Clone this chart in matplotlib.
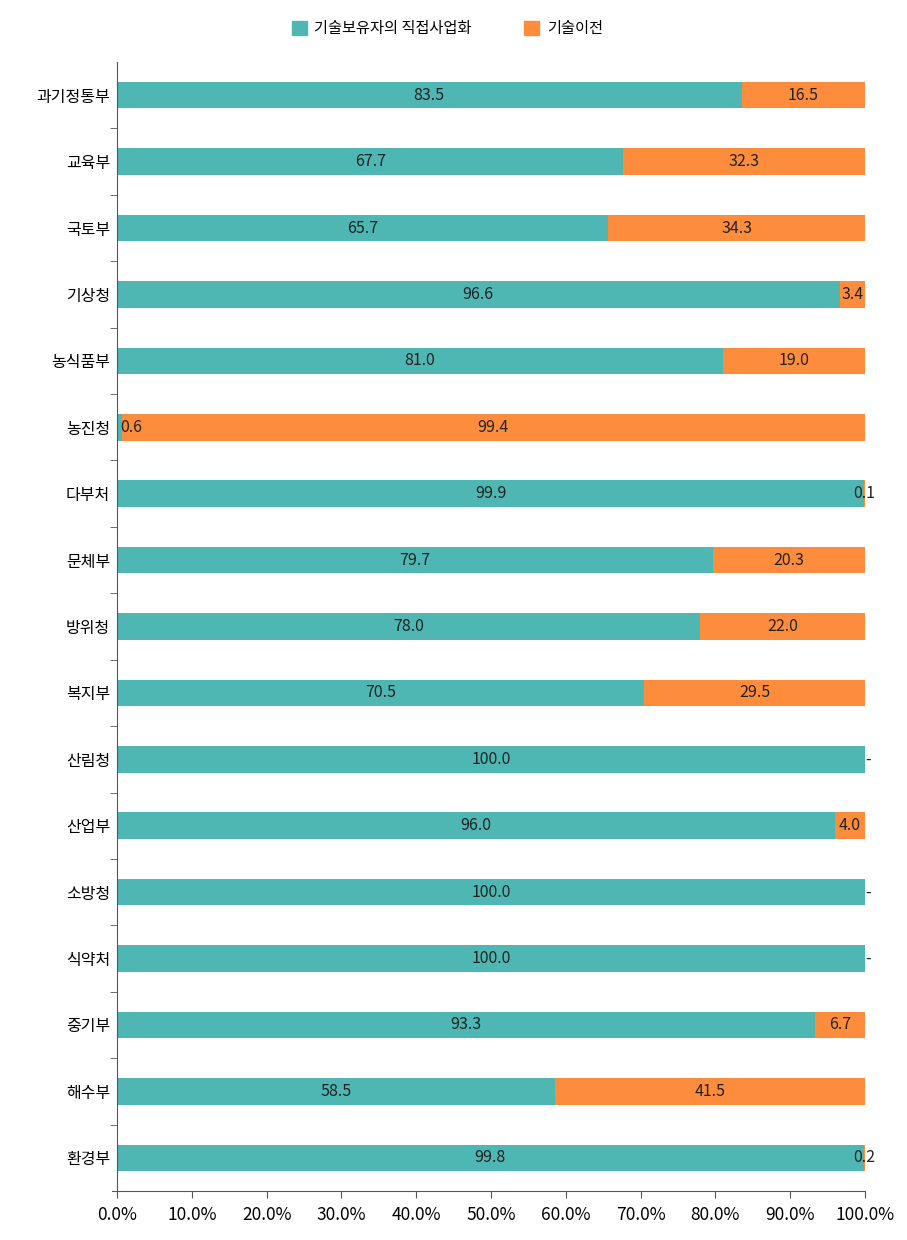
import numpy as np
import matplotlib.pyplot as plt
from matplotlib.patches import Patch

plt.rcParams['font.family'] = ['Noto Sans CJK KR', 'DejaVu Sans']

# data
ministries = ['과기정통부', '교육부', '국토부', '기상청', '농식품부', '농진청', '다부처',
              '문체부', '방위청', '복지부', '산림청', '산업부', '소방청', '식약처',
              '중기부', '해수부', '환경부']
direct = [83.5, 67.7, 65.7, 96.6, 81.0, 0.6, 99.9, 79.7, 78.0, 70.5,
          100.0, 96.0, 100.0, 100.0, 93.3, 58.5, 99.8]
transfer = [16.5, 32.3, 34.3, 3.4, 19.0, 99.4, 0.1, 20.3, 22.0, 29.5,
            0.0, 4.0, 0.0, 0.0, 6.7, 41.5, 0.2]
series_names = ['기술보유자의 직접사업화', '기술이전']

teal = '#4FB7B3'
orange = '#FD8D3C'
spine_c = '#555555'

fig = plt.figure(figsize=(9.07, 12.4), dpi=100)
ax = fig.add_axes([0.1235, 0.0395, 0.8302, 0.9105])

y = np.arange(len(ministries))
ax.barh(y, direct, height=0.4, color=teal)
ax.barh(y, transfer, left=direct, height=0.4, color=orange)

# value labels
for i in range(len(ministries)):
    d, t = direct[i], transfer[i]
    xd = max(d / 2, 1.9)
    ax.text(xd, i, f'{d:.1f}', ha='center', va='center', fontsize=11.5, color='#222222')
    if t > 0:
        ax.text(d + t / 2, i, f'{t:.1f}', ha='center', va='center', fontsize=11.5, color='#222222')
    else:
        ax.text(100.4, i, '-', ha='center', va='center', fontsize=11.5, color='#222222')

ax.set_xlim(-0.67, 100)
ax.set_ylim(len(ministries) - 0.5, -0.5)
ax.spines['left'].set_position(('data', 0))
ax.set_xticks(np.arange(0, 101, 10))
ax.set_xticklabels([f'{v:.1f}%' for v in range(0, 101, 10)], fontsize=12.5)
ax.set_yticks(y)
ax.set_yticklabels(ministries, fontsize=11.5)
ax.set_yticks(np.arange(0.5, len(ministries) - 0.5, 1), minor=True)
ax.tick_params(axis='y', which='major', length=0, pad=5)
ax.tick_params(axis='y', which='minor', length=5, color=spine_c)
ax.tick_params(axis='x', length=5, color=spine_c, pad=6)
for s in ['top', 'right']:
    ax.spines[s].set_visible(False)
ax.spines['left'].set_color(spine_c)
ax.spines['bottom'].set_color(spine_c)

handles = [Patch(color=teal), Patch(color=orange)]
fig.legend(handles, series_names, loc='center', bbox_to_anchor=(0.493, 0.977), ncol=2,
           frameon=False, fontsize=11, handlelength=1.0, handleheight=1.0,
           columnspacing=3.4, handletextpad=0.5)

plt.savefig('out.png', dpi=100)
